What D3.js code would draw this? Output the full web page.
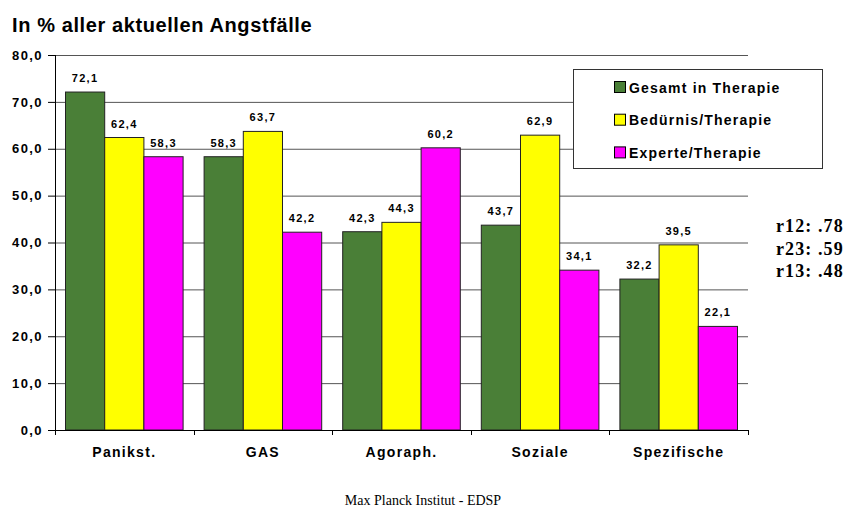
<!DOCTYPE html>
<html>
<head>
<meta charset="utf-8">
<script src="https://cdn.jsdelivr.net/npm/d3@7"></script>
<style>
  body { margin: 0; background: #fff; }
  text { font-family: "Liberation Sans", Arial, sans-serif; }
</style>
</head>
<body>
<div id="chart"></div>
<script>
var categories = ["Panikst.", "GAS", "Agoraph.", "Soziale", "Spezifische"];
var seriesNames = ["Gesamt in Therapie", "Bedürnis/Therapie", "Experte/Therapie"];
var gesamt = [72.1, 58.3, 42.3, 43.7, 32.2];
var beduerfnis = [62.4, 63.7, 44.3, 62.9, 39.5];
var experte = [58.3, 42.2, 60.2, 34.1, 22.1];
var yTicks = [0, 10, 20, 30, 40, 50, 60, 70, 80];
var corrLabels = ["r12: .78", "r23: .59", "r13: .48"];
var colors = ["#4a7f37", "#ffff00", "#ff00ff"];

var series = [gesamt, beduerfnis, experte];
var width = 847, height = 507;
var margin = {top: 55, right: 99, bottom: 77, left: 55};

var svg = d3.select("#chart").append("svg")
  .attr("width", width)
  .attr("height", height);

var x0 = d3.scaleBand()
  .domain(categories)
  .range([margin.left, width - margin.right])
  .padding(0);

var x1 = d3.scaleBand()
  .domain(d3.range(series.length))
  .range([10.5, x0.bandwidth() - 10.5])
  .padding(0);

var y = d3.scaleLinear()
  .domain([0, 80])
  .range([height - margin.bottom, margin.top]);

// title
svg.append("text")
  .attr("x", 12)
  .attr("y", 32)
  .style("font-size", "20px")
  .style("font-weight", "bold")
  .style("letter-spacing", "0.6px")
  .text("In % aller aktuellen Angstfälle");

// gridlines
svg.append("g")
  .selectAll("line")
  .data(yTicks.filter(function(d) { return d > 0; }))
  .enter()
  .append("line")
  .attr("x1", margin.left)
  .attr("x2", width - margin.right)
  .attr("y1", function(d) { return y(d) + 0.5; })
  .attr("y2", function(d) { return y(d) + 0.5; })
  .attr("stroke", "#555")
  .attr("stroke-width", 1);

// bars
var groups = svg.append("g")
  .selectAll("g")
  .data(categories)
  .enter()
  .append("g")
  .attr("transform", function(d) { return "translate(" + x0(d) + ",0)"; });

groups.selectAll("rect")
  .data(function(d, i) {
    return series.map(function(s, j) { return {s: j, val: s[i]}; });
  })
  .enter()
  .append("rect")
  .attr("x", function(d) { return x1(d.s); })
  .attr("y", function(d) { return y(d.val); })
  .attr("width", x1.bandwidth())
  .attr("height", function(d) { return y(0) - y(d.val); })
  .attr("fill", function(d) { return colors[d.s]; })
  .attr("stroke", "#222")
  .attr("stroke-width", 1);

groups.selectAll("text.val")
  .data(function(d, i) {
    return series.map(function(s, j) { return {s: j, val: s[i]}; });
  })
  .enter()
  .append("text")
  .attr("class", "val")
  .attr("x", function(d) { return x1(d.s) + x1.bandwidth() / 2; })
  .attr("y", function(d) { return y(d.val) - 10; })
  .attr("text-anchor", "middle")
  .style("font-size", "11px")
  .style("font-weight", "bold")
  .style("letter-spacing", "1.3px")
  .text(function(d) { return d.val.toFixed(1).replace(".", ","); });

// y axis
var yAxis = d3.axisLeft(y)
  .tickValues(yTicks)
  .tickSize(7)
  .tickFormat(function(d) { return d.toFixed(1).replace(".", ","); });

var gy = svg.append("g")
  .attr("transform", "translate(" + margin.left + ",0)")
  .call(yAxis);
gy.select(".domain").attr("stroke", "#000").attr("d", "M0.5," + margin.top + "V" + (y(0) + 0.5));
gy.selectAll(".tick line").attr("stroke", "#000");
gy.selectAll(".tick text")
  .attr("x", -12)
  .style("font-size", "13px")
  .style("font-weight", "bold")
  .style("letter-spacing", "1.4px")
  .style("font-family", "Liberation Sans, Arial, sans-serif")
  .attr("fill", "#000");

// x axis
var boundaries = d3.range(categories.length + 1).map(function(i) {
  return margin.left + i * x0.step();
});
svg.append("line")
  .attr("x1", margin.left)
  .attr("x2", width - margin.right)
  .attr("y1", y(0) + 0.5)
  .attr("y2", y(0) + 0.5)
  .attr("stroke", "#000");
svg.append("g")
  .selectAll("line")
  .data(boundaries)
  .enter()
  .append("line")
  .attr("x1", function(d) { return Math.round(d) + 0.5; })
  .attr("x2", function(d) { return Math.round(d) + 0.5; })
  .attr("y1", y(0))
  .attr("y2", y(0) + 5)
  .attr("stroke", "#000");

svg.append("g")
  .selectAll("text")
  .data(categories)
  .enter()
  .append("text")
  .attr("x", function(d) { return x0(d) + x0.bandwidth() / 2; })
  .attr("y", y(0) + 27)
  .attr("text-anchor", "middle")
  .style("font-size", "14px")
  .style("font-weight", "bold")
  .style("letter-spacing", "1.3px")
  .text(function(d) { return d; });

// legend
var legend = svg.append("g").attr("transform", "translate(573,69)");
legend.append("rect")
  .attr("x", 0.5)
  .attr("y", 0.5)
  .attr("width", 249)
  .attr("height", 99)
  .attr("fill", "#fff")
  .attr("stroke", "#333");

var items = legend.selectAll("g")
  .data(seriesNames)
  .enter()
  .append("g")
  .attr("transform", function(d, i) { return "translate(41," + (12 + i * 32.7) + ")"; });
items.append("rect")
  .attr("x", 0.5)
  .attr("y", 0.5)
  .attr("width", 11)
  .attr("height", 11)
  .attr("fill", function(d, i) { return colors[i]; })
  .attr("stroke", "#000");
items.append("text")
  .attr("x", 15)
  .attr("y", 11.5)
  .style("font-size", "14px")
  .style("font-weight", "bold")
  .style("letter-spacing", "1.2px")
  .text(function(d) { return d; });

// correlations
svg.append("g")
  .selectAll("text")
  .data(corrLabels)
  .enter()
  .append("text")
  .attr("x", 776)
  .attr("y", function(d, i) { return 232 + i * 22.5; })
  .style("font-family", "Liberation Serif, Times New Roman, serif")
  .style("font-size", "18px")
  .style("font-weight", "bold")
  .style("letter-spacing", "1.1px")
  .text(function(d) { return d; });

// footer
svg.append("text")
  .attr("x", 423)
  .attr("y", 505)
  .attr("text-anchor", "middle")
  .style("font-family", "Liberation Serif, Times New Roman, serif")
  .style("font-size", "14px")
  .text("Max Planck Institut - EDSP");
</script>
</body>
</html>
